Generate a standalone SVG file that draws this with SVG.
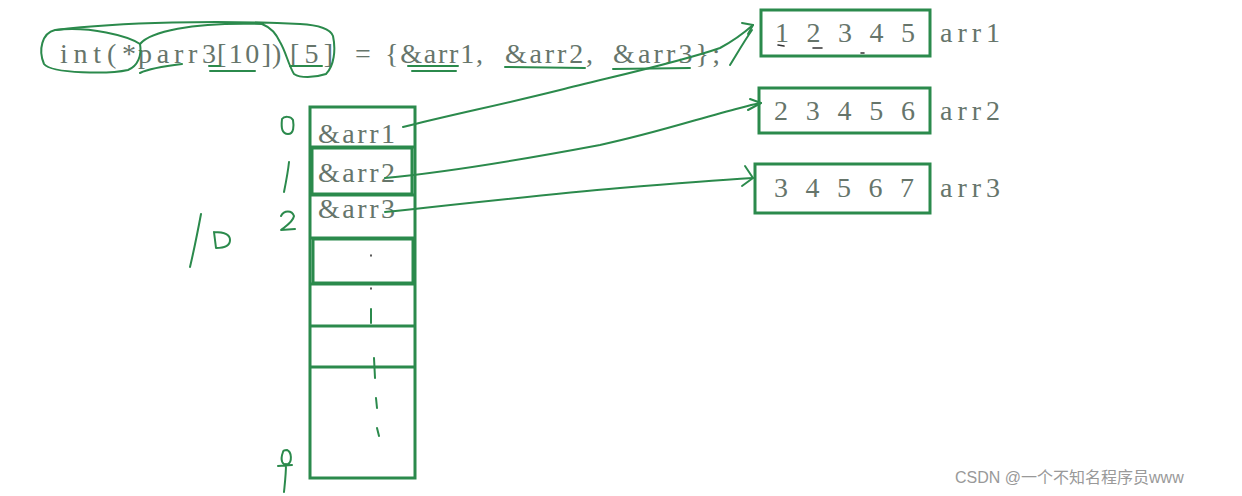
<svg xmlns="http://www.w3.org/2000/svg" width="1242" height="496" viewBox="0 0 1242 496">
<style>
.code{font-family:"Liberation Serif",serif;font-size:28px;fill:#66756b}
.num{font-family:"Liberation Serif",serif;font-size:28px;fill:#66756b}
.box{fill:none;stroke:#2b8a4c;stroke-width:3}
.ink{fill:none;stroke:#2b8a4c;stroke-width:2;stroke-linecap:round;stroke-linejoin:round}
.dark{fill:none;stroke:#333;stroke-width:1.6;stroke-linecap:round}
.wm{font-family:"Liberation Sans","Noto Sans CJK SC",sans-serif;font-size:16px;fill:#999}
</style>
<rect width="1242" height="496" fill="#ffffff"/>

<g id="code">
<text class="code" x="60" y="63" textLength="76">int(*</text>
<text class="code" x="138" y="63" textLength="78">parr3</text>
<text class="code" x="217" y="63" textLength="54">[10]</text>
<text class="code" x="272" y="63">)</text>
<text class="code" x="290" y="63" textLength="43">[5]</text>
<text class="code" x="355" y="63">=</text>
<text class="code" x="385" y="63" textLength="98">{&amp;arr1,</text>
<text class="code" x="505" y="63" textLength="88">&amp;arr2,</text>
<text class="code" x="613" y="63" textLength="107">&amp;arr3};</text>
</g>

<g id="code-marks">
<path class="ink" d="M140,44 C128,36 90,26 55,30 C42,33 38,50 44,64 C52,74 110,74 128,70 C138,66 142,55 140,44"/>
<path class="ink" d="M56,30 C120,22 220,20 300,24 C318,25 330,28 333,36 C336,50 334,66 326,74 C314,78 300,78 294,74 C288,64 286,52 280,42 C276,34 272,28 262,24"/>
<path class="ink" d="M140,44 C150,32 190,22 262,24"/>
<path class="ink" d="M140,73 C150,68 165,66 182,64"/>
<path class="ink" d="M209,66 L220,66"/>
<path class="ink" d="M210,71 L255,71"/>
<path class="ink" d="M290,66 L322,66"/>
<path class="ink" d="M408,66 L458,66 M412,71 L456,71"/>
<path class="ink" d="M505,67 L585,68"/>
<path class="ink" d="M613,69 L690,68"/>
<path class="ink" d="M730,65 C738,52 745,40 752,30"/>
</g>

<g id="idx">
<path class="ink" d="M282,119 C281,128 282,134 288,134 C294,134 294,126 293,120 C291,116 284,116 282,119"/>
<path class="ink" d="M289,162 C288,172 286,182 284,192"/>
<path class="ink" d="M281,216 C284,210 292,210 294,216 C293,222 286,226 281,230 L295,229"/>
<path class="ink" d="M201,214 C198,230 194,250 190,267"/>
<path class="ink" d="M214,232 L216,248 C224,248 230,246 230,240 C230,234 222,232 214,232"/>
<path class="ink" d="M283,452 C280,460 282,466 288,464 C292,462 292,452 287,450 C284,450 283,451 283,452 M286,464 C286,474 285,482 284,492 M278,466 L292,465"/>
</g>

<g id="array-parr3">
<rect class="box" x="310" y="107" width="105" height="371"/>
<line class="box" x1="310" y1="147" x2="415" y2="147"/>
<rect class="box" x="312" y="148" width="100" height="46"/>
<line class="box" x1="310" y1="195" x2="415" y2="195"/>
<line class="box" x1="310" y1="238" x2="415" y2="238"/>
<rect class="box" x="313" y="239" width="100" height="44"/>
<line class="box" x1="310" y1="284" x2="415" y2="284"/>
<line class="box" x1="310" y1="326" x2="415" y2="326"/>
<line class="box" x1="310" y1="367" x2="415" y2="367"/>
<text class="code" x="318" y="143" textLength="77">&amp;arr1</text>
<text class="code" x="318" y="182" textLength="77">&amp;arr2</text>
<text class="code" x="318" y="218" textLength="77">&amp;arr3</text>
<path class="dark" d="M371,255 L371,256 M371,288 L371,289"/>
<path class="ink" d="M371,309 L371,323"/>
<path class="ink" d="M374,358 L375,378"/>
<path class="ink" d="M376,398 L377,408"/>
<path class="ink" d="M377,428 L379,436"/>
</g>

<g id="arr1">
<rect class="box" x="761" y="10" width="169" height="46"/>
<text class="num" x="775" y="42" textLength="140">1 2 3 4 5</text>
<path class="dark" d="M778,45 L784,46 M813,48 L822,48 M861,53 L864,53"/>
<text class="code" x="940" y="42" textLength="60">arr1</text>
</g>
<g id="arr2">
<rect class="box" x="759" y="88" width="171" height="45"/>
<text class="num" x="774" y="120" textLength="141">2 3 4 5 6</text>
<text class="code" x="940" y="120" textLength="60">arr2</text>
</g>
<g id="arr3">
<rect class="box" x="755" y="164" width="175" height="49"/>
<text class="num" x="774" y="197" textLength="140">3 4 5 6 7</text>
<text class="code" x="940" y="197" textLength="60">arr3</text>
</g>

<g id="connectors">
<path class="ink" d="M403,127 C450,115 500,105 560,90 C620,75 680,62 720,48 C735,40 745,32 753,25"/>
<path class="ink" d="M753,25 L742,23 M753,25 L748,34"/>
<path class="ink" d="M385,178 C450,172 520,160 600,145 C660,132 700,118 740,108 C748,106 754,104 761,103"/>
<path class="ink" d="M761,103 L750,99 M761,103 L748,110"/>
<path class="ink" d="M385,212 C460,204 540,195 620,188 C680,183 720,180 753,178"/>
<path class="ink" d="M753,178 L745,166 M753,178 L742,186"/>
</g>

<text class="wm" x="955" y="483">CSDN @一个不知名程序员www</text>
</svg>
